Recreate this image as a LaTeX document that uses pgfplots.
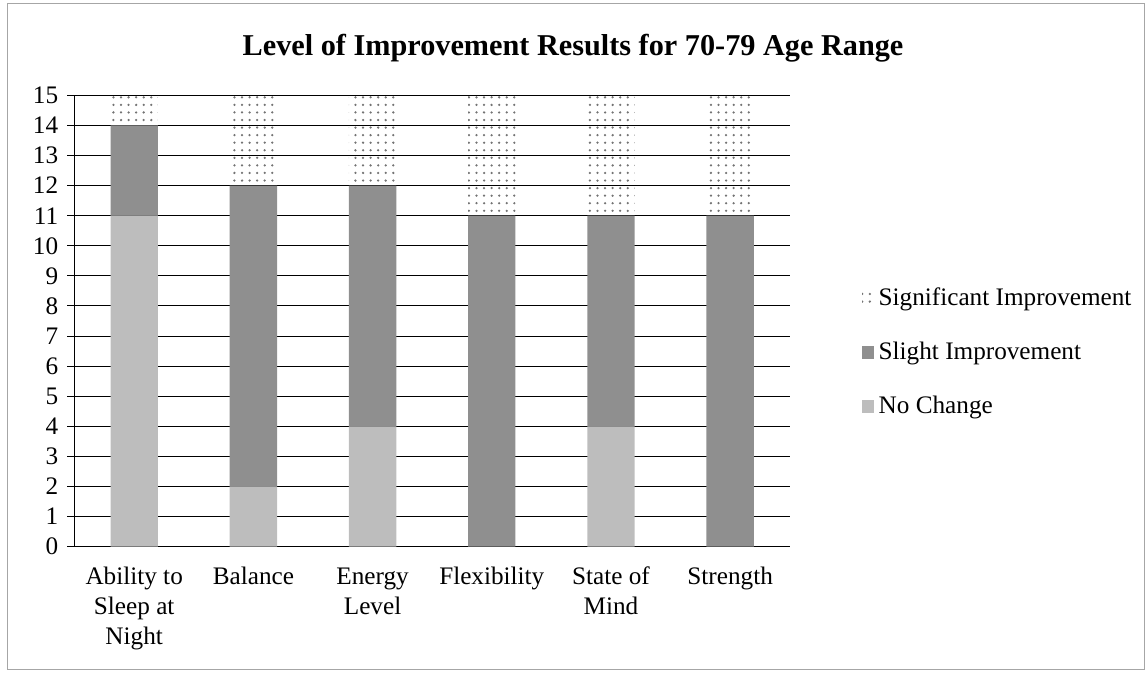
\documentclass[border=0pt]{standalone}
\usepackage{fontspec}
\setmainfont{Liberation Serif}
\usepackage{pgfplots}
\pgfplotsset{compat=1.18}
\usepackage{pgfplotstable}
\usetikzlibrary{patterns}

\definecolor{NoChg}{gray}{0.74}
\definecolor{Slight}{gray}{0.56}
\definecolor{Signif}{gray}{0.45}

% x, no change, slight, significant
\pgfplotstableread{
x nochange slight significant
0 11 3 1
1 2 10 3
2 4 8 3
3 0 11 4
4 4 7 4
5 0 11 4
}\improvement

\begin{document}
\begin{tikzpicture}
\path (-1.04,-1.75) rectangle (14.95,7.62);
\draw[gray!70, thin] (-0.93,-1.72) rectangle (14.92,7.57);
\begin{axis}[
  scale only axis,
  width=9.97cm,
  height=6.29cm,
  ybar stacked,
  bar width=0.66cm,
  xmin=-0.5, xmax=5.5,
  ymin=0, ymax=15,
  ytick={0,1,...,15},
  xtick={0,...,5},
  xticklabels={{\strut Ability to\\Sleep at\\Night},{\strut Balance},{\strut Energy\\Level},{\strut Flexibility},{\strut State of\\Mind},{\strut Strength}},
  xticklabel style={align=center, font=\normalsize, yshift=0pt},
  yticklabel style={font=\normalsize},
  /pgf/number format/assume math mode=true,
  xtick style={draw=none},
  extra x ticks={-0.5,0.5,1.5,2.5,3.5,4.5,5.5},
  extra x tick labels={},
  extra x tick style={major tick length=4pt, tick style={black, thin}, grid=none},
  ytick style={black, thin},
  major tick length=3pt,
  tick align=outside,
  tick pos=left,
  axis x line*=bottom,
  axis y line*=left,
  axis line style={black, thin},
  ymajorgrids,
  grid style={black, thin},
  title={\bfseries Level of Improvement Results for 70-79 Age Range},
  title style={font=\large, at={(0.697,1)}, anchor=base, yshift=0.35cm},
  area legend,
  reverse legend,
  legend style={draw=none, fill=none, font=\normalsize, at={(1.09,0.43)}, anchor=west,
    row sep=9pt, legend cell align=left},
  legend image code/.code={\draw[#1, draw=none] (0cm,-0.09cm) rectangle (0.16cm,0.09cm);},
]
\addplot[fill=NoChg, draw=none] table[x=x, y=nochange] {\improvement};
\addplot[fill=Slight, draw=none] table[x=x, y=slight] {\improvement};
\addplot[pattern=dots, pattern color=Signif, draw=none] table[x=x, y=significant] {\improvement};
\legend{No Change, Slight Improvement, Significant Improvement}
\end{axis}
\end{tikzpicture}
\end{document}
